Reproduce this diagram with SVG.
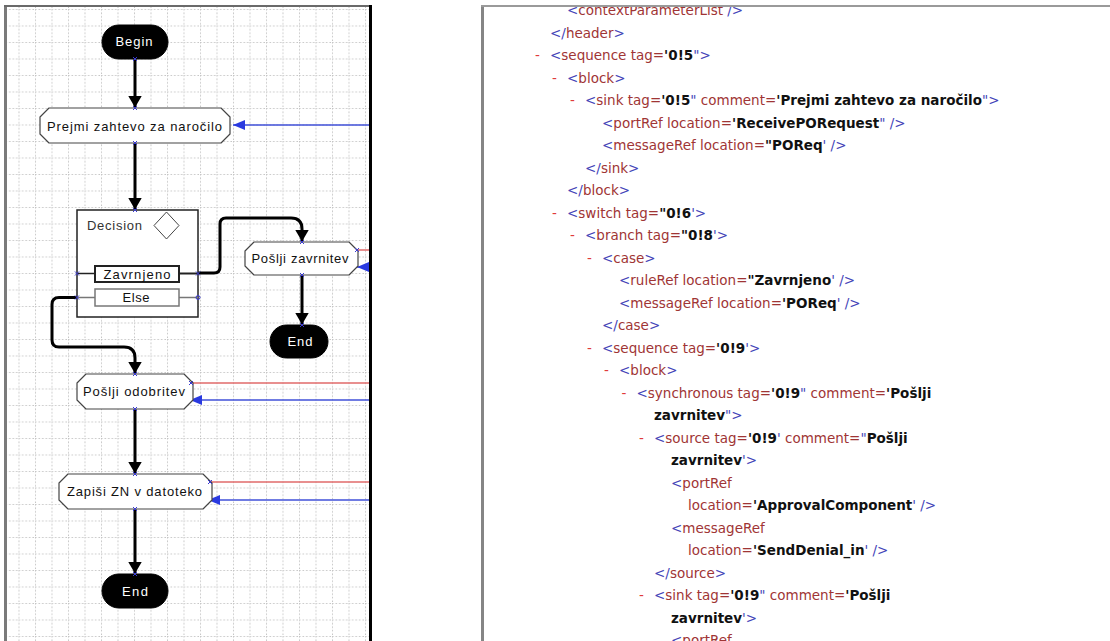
<svg xmlns="http://www.w3.org/2000/svg" width="1110" height="641" viewBox="0 0 1110 641">
<style>
.lbl{font-family:"Liberation Sans",Arial,sans-serif;font-size:13px;fill:#111;text-anchor:middle}
.lblw{font-family:"Liberation Sans",Arial,sans-serif;font-size:13px;fill:#fff;text-anchor:middle}
.term{fill:#000;stroke:#000;stroke-width:1}
.act{fill:#fff;stroke:#444;stroke-width:1.2;stroke-linejoin:round}
.conn{fill:none;stroke:#000;stroke-width:3}
.red{stroke:#e06a6a;stroke-width:1.5}
.blue{stroke:#4050d8;stroke-width:1.5}
.port{stroke:#3a3ad0;stroke-width:1;fill:none}
.xml{font-family:"DejaVu Sans",Verdana,sans-serif;font-size:13.5px}
.m{fill:#4444b8}
.t{fill:#a03535}
.v{fill:#111;font-weight:bold}
.d{fill:#e03a3a}
</style>
<defs>
<pattern id="grid" x="2" y="9" width="16.5" height="16.5" patternUnits="userSpaceOnUse">
<line x1="0" y1="0.5" x2="16.5" y2="0.5" stroke="#c4c4c4" stroke-width="1" stroke-dasharray="1.5 2"/>
<line x1="0.5" y1="0" x2="0.5" y2="16.5" stroke="#c4c4c4" stroke-width="1" stroke-dasharray="1.5 2"/>
</pattern>
<marker id="ah" viewBox="0 0 12 14" refX="12" refY="7" markerWidth="12" markerHeight="14" markerUnits="userSpaceOnUse" orient="auto">
<path d="M0,0 L12,7 L0,14 Z" fill="#000"/>
</marker>
<marker id="bh" viewBox="0 0 12 10" refX="12" refY="5" markerWidth="12" markerHeight="10" markerUnits="userSpaceOnUse" orient="auto">
<path d="M0,0 L12,5 L0,10 Z" fill="#2a3ae0"/>
</marker>
<path id="px" d="M-2,-2 L2,2 M-2,2 L2,-2" class="port"/>
<clipPath id="xclip"><rect x="484" y="7" width="626" height="634"/></clipPath>
</defs>
<rect width="1110" height="641" fill="#fff"/>
<!-- left frame -->
<rect x="7" y="7" width="362" height="634" fill="url(#grid)"/>
<rect x="4" y="5" width="3" height="636" fill="#7a7a7a"/>
<rect x="4" y="5" width="368" height="2" fill="#6a6a6a"/>
<rect x="369" y="5" width="3" height="636" fill="#000"/>
<!-- right panel frame -->
<rect x="481" y="5" width="3" height="636" fill="#858585"/>
<rect x="481" y="5" width="629" height="2" fill="#9a9a9a"/>

<g id="connectors">
<path class="conn" d="M135,59 V107.5" marker-end="url(#ah)"/>
<path class="conn" d="M135,143 V209.5" marker-end="url(#ah)"/>
<path class="conn" d="M198,273 H214 Q220,273 220,267 V224 Q220,218 226,218 H291 Q302,218 302,229 V241.5" marker-end="url(#ah)"/>
<path class="conn" d="M302,275 V324.5" marker-end="url(#ah)"/>
<path class="conn" d="M77,297.5 H59 Q52,297.5 52,304.5 V340 Q52,347 59,347 H124 Q135,347 135,358 V373.5" marker-end="url(#ah)"/>
<path class="conn" d="M135,409 V473.5" marker-end="url(#ah)"/>
<path class="conn" d="M135,509 V573.5" marker-end="url(#ah)"/>
<line class="blue" x1="369" y1="125" x2="233" y2="125" marker-end="url(#bh)"/>
<line class="red" x1="358" y1="250" x2="369" y2="250"/>
<line class="blue" x1="369" y1="267" x2="357" y2="267" marker-end="url(#bh)"/>
<line class="red" x1="192" y1="383" x2="369" y2="383"/>
<line class="blue" x1="369" y1="400" x2="190" y2="400" marker-end="url(#bh)"/>
<line class="red" x1="210" y1="482" x2="369" y2="482"/>
<line class="blue" x1="369" y1="500" x2="208" y2="500" marker-end="url(#bh)"/>
</g>

<g id="begin">
<rect class="term" x="102" y="25" width="66" height="34" rx="17"/>
<text class="lblw" x="134" y="46" textLength="37" lengthAdjust="spacing">Begin</text>
</g>
<g id="prejmi">
<path class="act" d="M49,108 H221 L230,117 V134 L221,143 H49 L40,134 V117 Z"/>
<text class="lbl" x="134.5" y="130.5" textLength="175" lengthAdjust="spacing">Prejmi zahtevo za naročilo</text>
</g>
<g id="decision">
<rect x="77" y="210" width="121" height="107" fill="#fff" stroke="#222" stroke-width="1.5"/>
<text class="lbl" x="87" y="229.5" style="text-anchor:start;fill:#333" textLength="55" lengthAdjust="spacing">Decision</text>
<path d="M166.5,212 L179,225.5 L166.5,239 L154,225.5 Z" fill="#fff" stroke="#444" stroke-width="1"/>
<line x1="77" y1="273.5" x2="95" y2="273.5" stroke="#222" stroke-width="1.5"/>
<line x1="179" y1="273.5" x2="198" y2="273.5" stroke="#222" stroke-width="2"/>
<rect x="95" y="266" width="84" height="16" fill="#fff" stroke="#222" stroke-width="2"/>
<text class="lbl" x="137" y="278.5" textLength="67" lengthAdjust="spacing">Zavrnjeno</text>
<line x1="77" y1="297.5" x2="95" y2="297.5" stroke="#777" stroke-width="1.5"/>
<line x1="179" y1="297.5" x2="198" y2="297.5" stroke="#777" stroke-width="1.5"/>
<rect x="95" y="289" width="84" height="17" fill="#fff" stroke="#777" stroke-width="1.5"/>
<text class="lbl" x="136" y="302" textLength="27" lengthAdjust="spacing">Else</text>
</g>
<g id="zavrnitev">
<path class="act" d="M254,242 H349 L358,251 V266 L349,275 H254 L245,266 V251 Z"/>
<text class="lbl" x="300" y="262.5" textLength="97" lengthAdjust="spacing">Pošlji zavrnitev</text>
</g>
<g id="end1">
<rect class="term" x="270" y="325" width="58" height="33" rx="16.5"/>
<text class="lblw" x="300" y="346" textLength="25" lengthAdjust="spacing">End</text>
</g>
<g id="odobritev">
<path class="act" d="M86,374 H184 L193,383 V400 L184,409 H86 L77,400 V383 Z"/>
<text class="lbl" x="134" y="395.5" textLength="102" lengthAdjust="spacing">Pošlji odobritev</text>
</g>
<g id="zapisi">
<path class="act" d="M68,474 H203 L212,483 V500 L203,509 H68 L59,500 V483 Z"/>
<text class="lbl" x="134.5" y="496" textLength="135" lengthAdjust="spacing">Zapiši ZN v datoteko</text>
</g>
<g id="end2">
<rect class="term" x="102" y="574" width="66" height="34" rx="17"/>
<text class="lblw" x="135" y="596" textLength="26" lengthAdjust="spacing">End</text>
</g>
<g id="ports">
<use href="#px" x="135" y="59"/><use href="#px" x="135" y="108"/><use href="#px" x="135" y="143"/>
<use href="#px" x="135" y="210"/><use href="#px" x="77" y="273.5"/><use href="#px" x="198" y="273.5"/>
<use href="#px" x="77" y="297.5"/><circle cx="198" cy="297.5" r="2" class="port"/>
<use href="#px" x="302" y="242"/><use href="#px" x="302" y="275"/><use href="#px" x="357" y="250"/>
<use href="#px" x="302" y="325"/><use href="#px" x="135" y="374"/><use href="#px" x="135" y="409"/>
<use href="#px" x="191" y="383"/><use href="#px" x="135" y="474"/><use href="#px" x="135" y="509"/>
<use href="#px" x="210" y="482"/><use href="#px" x="135" y="574"/>
</g>

<g id="xml" class="xml" clip-path="url(#xclip)">
<text y="15"><tspan x="567" class="m">&lt;</tspan><tspan class="t">contextParameterList</tspan><tspan class="m"> /&gt;</tspan></text>
<text y="37.5"><tspan x="550" class="m">&lt;/</tspan><tspan class="t">header</tspan><tspan class="m">&gt;</tspan></text>
<text y="60"><tspan x="535" class="d">-</tspan><tspan x="550" class="m">&lt;</tspan><tspan class="t">sequence tag=</tspan><tspan class="v">'0!5</tspan><tspan class="m">"&gt;</tspan></text>
<text y="82.5"><tspan x="552" class="d">-</tspan><tspan x="567" class="m">&lt;</tspan><tspan class="t">block</tspan><tspan class="m">&gt;</tspan></text>
<text y="105"><tspan x="570" class="d">-</tspan><tspan x="585" class="m">&lt;</tspan><tspan class="t">sink tag=</tspan><tspan class="v">'0!5</tspan><tspan class="m">"</tspan><tspan class="t"> comment=</tspan><tspan class="v">'Prejmi zahtevo za naročilo</tspan><tspan class="m">"&gt;</tspan></text>
<text y="127.5"><tspan x="602" class="m">&lt;</tspan><tspan class="t">portRef location=</tspan><tspan class="v">'ReceivePORequest</tspan><tspan class="m">" /&gt;</tspan></text>
<text y="150"><tspan x="602" class="m">&lt;</tspan><tspan class="t">messageRef location=</tspan><tspan class="v">"POReq</tspan><tspan class="m">' /&gt;</tspan></text>
<text y="172.5"><tspan x="585" class="m">&lt;/</tspan><tspan class="t">sink</tspan><tspan class="m">&gt;</tspan></text>
<text y="195"><tspan x="567" class="m">&lt;/</tspan><tspan class="t">block</tspan><tspan class="m">&gt;</tspan></text>
<text y="217.5"><tspan x="552" class="d">-</tspan><tspan x="567" class="m">&lt;</tspan><tspan class="t">switch tag=</tspan><tspan class="v">"0!6</tspan><tspan class="m">'&gt;</tspan></text>
<text y="240"><tspan x="570" class="d">-</tspan><tspan x="585" class="m">&lt;</tspan><tspan class="t">branch tag=</tspan><tspan class="v">"0!8</tspan><tspan class="m">'&gt;</tspan></text>
<text y="262.5"><tspan x="587" class="d">-</tspan><tspan x="602" class="m">&lt;</tspan><tspan class="t">case</tspan><tspan class="m">&gt;</tspan></text>
<text y="285"><tspan x="619" class="m">&lt;</tspan><tspan class="t">ruleRef location=</tspan><tspan class="v">"Zavrnjeno</tspan><tspan class="m">' /&gt;</tspan></text>
<text y="307.5"><tspan x="619" class="m">&lt;</tspan><tspan class="t">messageRef location=</tspan><tspan class="v">'POReq</tspan><tspan class="m">' /&gt;</tspan></text>
<text y="330"><tspan x="602" class="m">&lt;/</tspan><tspan class="t">case</tspan><tspan class="m">&gt;</tspan></text>
<text y="352.5"><tspan x="587" class="d">-</tspan><tspan x="602" class="m">&lt;</tspan><tspan class="t">sequence tag=</tspan><tspan class="v">'0!9</tspan><tspan class="m">'&gt;</tspan></text>
<text y="375"><tspan x="604" class="d">-</tspan><tspan x="619" class="m">&lt;</tspan><tspan class="t">block</tspan><tspan class="m">&gt;</tspan></text>
<text y="397.5"><tspan x="621.5" class="d">-</tspan><tspan x="636.5" class="m">&lt;</tspan><tspan class="t">synchronous tag=</tspan><tspan class="v">'0!9</tspan><tspan class="m">"</tspan><tspan class="t"> comment=</tspan><tspan class="v">'Pošlji</tspan></text>
<text y="420"><tspan x="654" class="v">zavrnitev</tspan><tspan class="m">"&gt;</tspan></text>
<text y="442.5"><tspan x="639" class="d">-</tspan><tspan x="654" class="m">&lt;</tspan><tspan class="t">source tag=</tspan><tspan class="v">'0!9</tspan><tspan class="m">'</tspan><tspan class="t"> comment=</tspan><tspan class="m">"</tspan><tspan class="v">Pošlji</tspan></text>
<text y="465"><tspan x="671" class="v">zavrnitev</tspan><tspan class="m">'&gt;</tspan></text>
<text y="487.5"><tspan x="671" class="m">&lt;</tspan><tspan class="t">portRef</tspan></text>
<text y="510"><tspan x="688" class="t">location=</tspan><tspan class="v">'ApprovalComponent</tspan><tspan class="m">' /&gt;</tspan></text>
<text y="532.5"><tspan x="671" class="m">&lt;</tspan><tspan class="t">messageRef</tspan></text>
<text y="555"><tspan x="688" class="t">location=</tspan><tspan class="v">'SendDenial_in</tspan><tspan class="m">' /&gt;</tspan></text>
<text y="577.5"><tspan x="654" class="m">&lt;/</tspan><tspan class="t">source</tspan><tspan class="m">&gt;</tspan></text>
<text y="600"><tspan x="639" class="d">-</tspan><tspan x="654" class="m">&lt;</tspan><tspan class="t">sink tag=</tspan><tspan class="v">'0!9</tspan><tspan class="m">"</tspan><tspan class="t"> comment=</tspan><tspan class="v">'Pošlji</tspan></text>
<text y="622.5"><tspan x="671" class="v">zavrnitev</tspan><tspan class="m">'&gt;</tspan></text>
<text y="645"><tspan x="671" class="m">&lt;</tspan><tspan class="t">portRef</tspan></text>
</g>
</svg>
